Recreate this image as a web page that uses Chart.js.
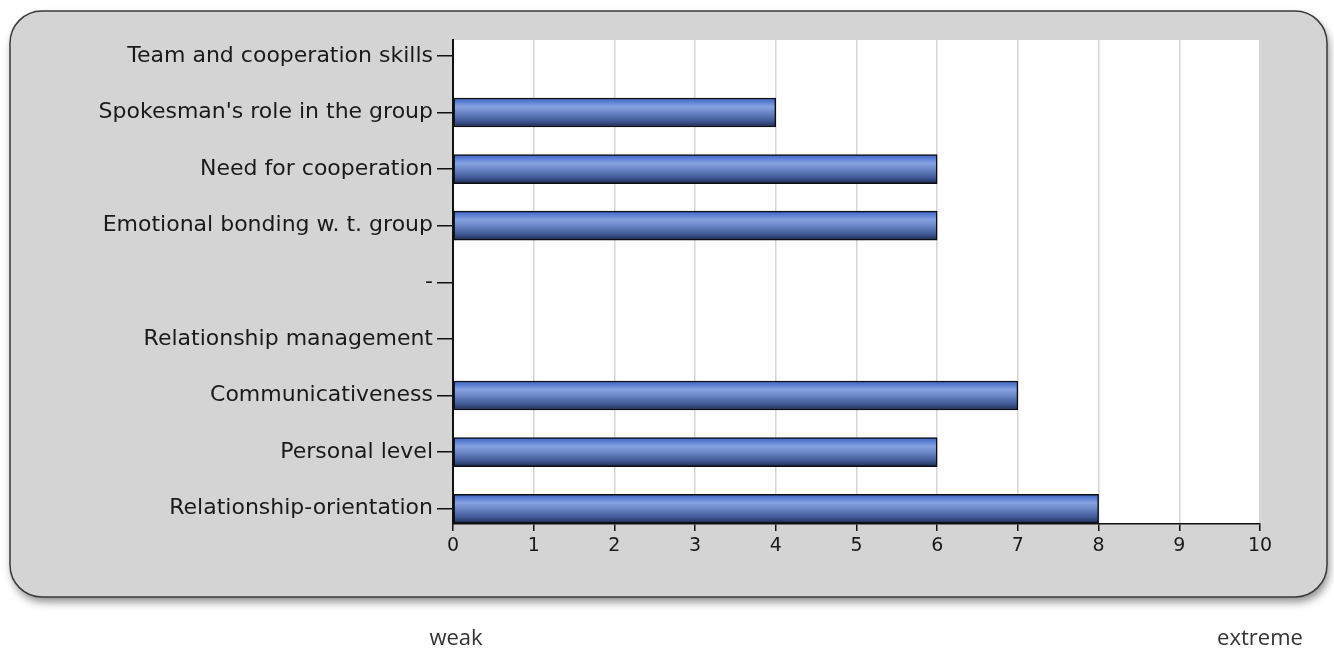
<!DOCTYPE html>
<html>
<head>
<meta charset="utf-8">
<script src="https://cdn.jsdelivr.net/npm/chart.js@4"></script>
<style>
    body { margin: 0; background: #fff; }
    #wrap { position: relative; width: 1334px; height: 650px; }
    .scaleNote {
        position: absolute; top: 621px; width: 200px; margin-left: -100px;
        text-align: center; font: 22px "Open Sans", sans-serif; line-height: 30px; color: #333;
    }
</style>
</head>
<body>
<div id="wrap">
    <canvas id="profileChart" width="1334" height="650"></canvas>
    <div class="scaleNote" style="left:456px">weak</div>
    <div class="scaleNote" style="left:1260px">extreme</div>
</div>
<script>
// Rubros del perfil (de arriba hacia abajo) y su puntaje 0..10
const traits = [
    'Team and cooperation skills',
    "Spokesman's role in the group",
    'Need for cooperation',
    'Emotional bonding w. t. group',
    '-',
    'Relationship management',
    'Communicativeness',
    'Personal level',
    'Relationship-orientation'
];
const scores = [0, 4, 6, 6, 0, 0, 7, 6, 8];
const scaleTicks = [0, 1, 2, 3, 4, 5, 6, 7, 8, 9, 10];

const BAR_H = 29;

// Fondo gris redondeado con sombra + area blanca del grafico
const panelPlugin = {
    id: 'panel',
    beforeDraw(chart) {
        const ctx = chart.ctx;
        const a = chart.chartArea;
        ctx.save();
        ctx.beginPath();
        ctx.roundRect(10, 11, 1317, 586, 32);
        ctx.shadowColor = 'rgba(0,0,0,0.45)';
        ctx.shadowBlur = 9;
        ctx.shadowOffsetX = 2;
        ctx.shadowOffsetY = 5;
        ctx.fillStyle = '#d4d4d4';
        ctx.fill();
        ctx.shadowColor = 'transparent';
        ctx.lineWidth = 1.5;
        ctx.strokeStyle = '#3a3a3a';
        ctx.stroke();
        ctx.fillStyle = '#ffffff';
        ctx.fillRect(a.left, a.top, a.right - a.left, a.bottom - a.top);
        ctx.restore();
    }
};

function barGradient(c) {
    const chart = c.chart;
    if (!chart.chartArea || !chart.scales.y) return '#5a7bc8';
    const yc = chart.scales.y.getPixelForValue(c.dataIndex);
    const g = chart.ctx.createLinearGradient(0, yc - BAR_H / 2, 0, yc + BAR_H / 2);
    g.addColorStop(0, '#3a62c6');
    g.addColorStop(0.3, '#86a2e0');
    g.addColorStop(0.5, '#6b87c7');
    g.addColorStop(0.8, '#3f5894');
    g.addColorStop(1, '#1d2a4e');
    return g;
}

new Chart(document.getElementById('profileChart'), {
    type: 'bar',
    data: {
        datasets: [{
            data: scores.map((v, i) => ({ x: v, y: i })),
            backgroundColor: barGradient,
            borderColor: '#0d0d14',
            borderWidth: 1.5,
            borderSkipped: false,
            barThickness: BAR_H
        }]
    },
    options: {
        indexAxis: 'y',
        responsive: false,
        animation: false,
        layout: { padding: { left: 0, top: 40, right: 74, bottom: 0 } },
        plugins: { legend: { display: false }, tooltip: { enabled: false } },
        scales: {
            x: {
                type: 'linear',
                min: 0,
                max: 10,
                afterBuildTicks: scale => { scale.ticks = scaleTicks.map(v => ({ value: v })); },
                afterFit: scale => { scale.height = 126; },
                grid: { color: '#d6d6d6', lineWidth: 1.5, tickColor: '#111', tickLength: 7 },
                border: { color: '#111', width: 1.5 },
                ticks: { color: '#1a1a1a', padding: 4, font: { family: 'DejaVu Sans', size: 19 } }
            },
            y: {
                type: 'linear',
                reverse: true,
                offset: false,
                min: -0.28,
                max: 8.27,
                afterBuildTicks: scale => { scale.ticks = traits.map((_, i) => ({ value: i })); },
                afterFit: scale => { scale.width = 453; },
                grid: { offset: false, drawOnChartArea: false, color: '#111', tickLength: 16, lineWidth: 1.5 },
                border: { color: '#111', width: 2 },
                ticks: {
                    color: '#1a1a1a',
                    padding: 4,
                    font: { family: 'DejaVu Sans', size: 22 },
                    callback: v => traits[v]
                }
            }
        }
    },
    plugins: [panelPlugin]
});
</script>
</body>
</html>
